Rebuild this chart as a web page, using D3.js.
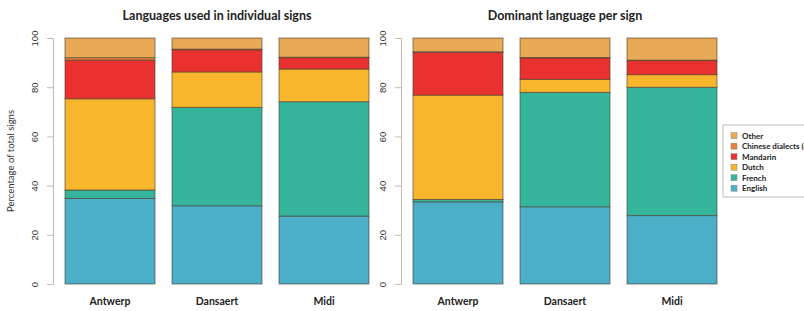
<!DOCTYPE html>
<html>
<head>
<meta charset="utf-8">
<script src="https://cdn.jsdelivr.net/npm/d3@7"></script>
<style>
  body { margin: 0; background: #fff; }
  svg { display: block; }
</style>
</head>
<body>
<div id="chart"></div>
<script>
// values, percent of total signs
const places = ["Antwerp", "Dansaert", "Midi"];
const languages = ["English", "French", "Dutch", "Mandarin", "Chinese dialects (other)", "Other"];
const colors = ["#4aafc7", "#35b59b", "#f8b62d", "#e9312f", "#e8823a", "#e8aa54"];

// Languages used in individual signs
const usedEnglish  = [34.8, 31.8, 27.6];
const usedFrench   = [3.4, 40.0, 46.5];
const usedDutch    = [37.1, 14.4, 13.3];
const usedMandarin = [15.7, 9.0, 4.6];
const usedChinese  = [1.0, 0.3, 0.2];
const usedOther    = [8.0, 4.5, 7.8];

// Dominant language per sign
const domEnglish  = [33.4, 31.4, 27.8];
const domFrench   = [1.0, 46.5, 52.2];
const domDutch    = [42.4, 5.3, 5.1];
const domMandarin = [17.4, 8.7, 5.7];
const domChinese  = [0.2, 0.2, 0.2];
const domOther    = [5.6, 7.9, 9.0];

const yTicks = [0, 20, 40, 60, 80, 100];

const W = 804, H = 311;
const svg = d3.select("#chart").append("svg")
  .attr("width", W)
  .attr("height", H)
  .style("font-family", "Lato, 'DejaVu Sans', sans-serif");

const y = d3.scaleLinear().domain([0, 100]).range([284, 38]);

const makeRows = function(cols) {
  return places.map((p, i) => {
    const row = {place: p};
    languages.forEach((l, j) => { row[l] = cols[j][i]; });
    return row;
  });
};

const panels = [
  {title: "Languages used in individual signs", x0: 53,
   rows: makeRows([usedEnglish, usedFrench, usedDutch, usedMandarin, usedChinese, usedOther])},
  {title: "Dominant language per sign", x0: 401,
   rows: makeRows([domEnglish, domFrench, domDutch, domMandarin, domChinese, domOther])}
];

const stack = d3.stack().keys(languages);
const color = d3.scaleOrdinal().domain(languages).range(colors);

panels.forEach((panel) => {
  const g = svg.append("g");

  const x = d3.scaleBand()
    .domain(places)
    .range([panel.x0 + 12, panel.x0 + 316])
    .paddingInner(17 / 107)
    .paddingOuter(0);

  const series = stack(panel.rows);

  g.selectAll("g.layer")
    .data(series)
    .enter()
    .append("g")
    .attr("class", "layer")
    .attr("fill", (d) => color(d.key))
    .selectAll("rect")
    .data((d) => d)
    .enter()
    .append("rect")
    .attr("x", (d) => x(d.data.place))
    .attr("width", x.bandwidth())
    .attr("y", (d) => y(d[1]))
    .attr("height", (d) => y(d[0]) - y(d[1]))
    .attr("stroke", "#4d3f33")
    .attr("stroke-opacity", 0.7)
    .attr("stroke-width", 0.9);

  // y axis, R style
  const axis = g.append("g")
    .attr("transform", "translate(" + panel.x0 + ",0)")
    .call(d3.axisLeft(y).tickValues(yTicks).tickSize(6));
  axis.select(".domain").attr("stroke", "#c9b9b3");
  axis.selectAll(".tick line").attr("stroke", "#c9b9b3");
  axis.selectAll(".tick text")
    .attr("font-size", 9.5)
    .attr("fill", "#333")
    .attr("text-anchor", "middle")
    .attr("x", 0)
    .attr("dy", "0.35em")
    .attr("transform", "translate(-18,0) rotate(-90)");

  // category labels
  g.selectAll("text.cat")
    .data(places)
    .enter()
    .append("text")
    .attr("class", "cat")
    .attr("x", (d) => x(d) + x.bandwidth() / 2)
    .attr("y", 305)
    .attr("text-anchor", "middle")
    .attr("font-size", 10.5)
    .attr("font-weight", "bold")
    .attr("fill", "#222")
    .text((d) => d);

  g.append("text")
    .attr("x", (x(places[0]) + x(places[2]) + x.bandwidth()) / 2)
    .attr("y", 20)
    .attr("text-anchor", "middle")
    .attr("font-size", 12.5)
    .attr("font-weight", "bold")
    .attr("fill", "#222")
    .text(panel.title);
});

svg.append("text")
  .attr("transform", "translate(14," + y(50) + ") rotate(-90)")
  .attr("text-anchor", "middle")
  .attr("font-size", 9.5)
  .attr("fill", "#333")
  .text("Percentage of total signs");

// legend
const legend = svg.append("g").attr("transform", "translate(723,125)");
legend.append("rect")
  .attr("width", 100)
  .attr("height", 72)
  .attr("fill", "#fff")
  .attr("stroke", "#bbb")
  .attr("stroke-width", 1);

const legendItems = languages.slice().reverse();
legend.selectAll("g.item")
  .data(legendItems)
  .enter()
  .append("g")
  .attr("class", "item")
  .attr("transform", (d, i) => "translate(0," + (10.7 + i * 10.5) + ")")
  .each(function(d) {
    const it = d3.select(this);
    it.append("rect")
      .attr("x", 8)
      .attr("y", -3)
      .attr("width", 6)
      .attr("height", 6)
      .attr("fill", color(d))
      .attr("stroke", "#888")
      .attr("stroke-width", 0.5);
    it.append("text")
      .attr("x", 19)
      .attr("dy", "0.35em")
      .attr("font-size", 8)
      .attr("font-weight", "bold")
      .attr("fill", "#222")
      .text(d);
  });
</script>
</body>
</html>
